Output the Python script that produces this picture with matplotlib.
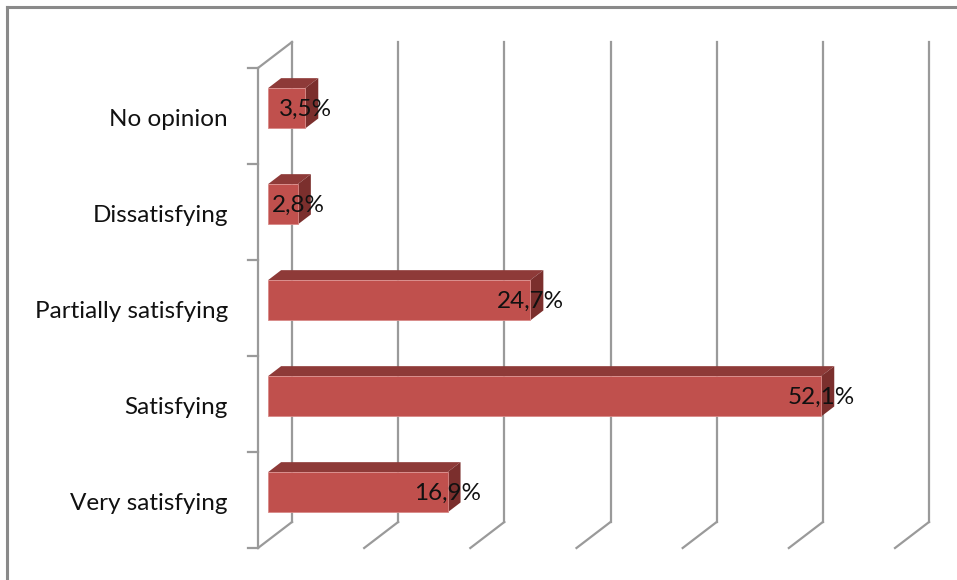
import numpy as np
import matplotlib
matplotlib.use('Agg')
import matplotlib.pyplot as plt
from matplotlib.patches import Polygon
from matplotlib.lines import Line2D

# data (bottom to top)
categories = ['Very satisfying', 'Satisfying', 'Partially satisfying', 'Dissatisfying', 'No opinion']
values = [16.9, 52.1, 24.7, 2.8, 3.5]
labels = ['16,9%', '52,1%', '24,7%', '2,8%', '3,5%']
grid_vals = [0, 10, 20, 30, 40, 50, 60]

plt.rcParams['font.family'] = ['Lato', 'DejaVu Sans']

W, H = 957, 580
fig = plt.figure(figsize=(W / 100, H / 100), dpi=100)
ax = fig.add_axes([258 / W, 32 / H, 637 / W, 480 / H])
ax.set_xlim(0, 60)
ax.set_ylim(-0.5, 4.5)
ax.axis('off')

# 3d depth offset in data units
px_x = 637 / 60.0
px_y = 96.0
DX = 34 / px_x
DY = 26 / px_y
d0, d1 = 0.3, 0.68
bh = 0.42

grid_col = '#9a9a9a'
lw = 1.6

# back wall gridlines + floor diagonals
for g in grid_vals:
    ax.plot([g + DX, g + DX], [-0.5 + DY, 4.5 + DY], color=grid_col, lw=lw, clip_on=False, zorder=1)
    ax.plot([g, g + DX], [-0.5, -0.5 + DY], color=grid_col, lw=lw, clip_on=False, zorder=1)

# left wall
ax.plot([0, 0], [-0.5, 4.5], color=grid_col, lw=lw, clip_on=False, zorder=1)
ax.plot([0, DX], [4.5, 4.5 + DY], color=grid_col, lw=lw, clip_on=False, zorder=1)
tick_len = 10 / px_x
for k in range(len(categories) + 1):
    ax.plot([-tick_len, 0], [k - 0.5, k - 0.5], color=grid_col, lw=lw, clip_on=False, zorder=1)

front_c = '#C0504D'
top_c = '#8E3A38'
side_c = '#7B2F2D'

for i, v in enumerate(values):
    y0 = i - bh / 2
    y1 = i + bh / 2
    fx0, fy0 = d0 * DX, d0 * DY
    bx0, by0 = d1 * DX, d1 * DY
    front = [(fx0, y0 + fy0), (v + fx0, y0 + fy0), (v + fx0, y1 + fy0), (fx0, y1 + fy0)]
    top = [(fx0, y1 + fy0), (v + fx0, y1 + fy0), (v + bx0, y1 + by0), (bx0, y1 + by0)]
    side = [(v + fx0, y0 + fy0), (v + bx0, y0 + by0), (v + bx0, y1 + by0), (v + fx0, y1 + fy0)]
    ax.add_patch(Polygon(top, closed=True, fc=top_c, ec='none', zorder=3, clip_on=False))
    ax.add_patch(Polygon(side, closed=True, fc=side_c, ec='none', zorder=3, clip_on=False))
    ax.add_patch(Polygon(front, closed=True, fc=front_c, ec='#d98a88', lw=0.6, zorder=4, clip_on=False))
    ax.text(v + fx0, i + fy0 - 1 / px_y, labels[i], ha='center', va='center', fontsize=17.5,
            color='#111111', zorder=5, clip_on=False)

for i, c in enumerate(categories):
    ax.text(-30 / px_x, i - 3 / px_y, c, ha='right', va='center', fontsize=17.5, color='#111111', clip_on=False)

# outer frame (top and left only)
fig.add_artist(Line2D([7 / W, 1], [1 - 7 / H, 1 - 7 / H], color='#8a8a8a', lw=2.2))
fig.add_artist(Line2D([7 / W, 7 / W], [0, 1 - 7 / H], color='#8a8a8a', lw=2.2))

fig.savefig('out.png', dpi=100)
